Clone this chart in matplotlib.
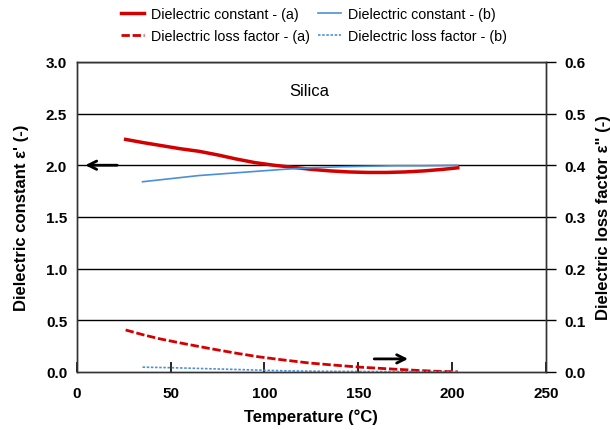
import matplotlib.pyplot as plt

plt.rcParams['font.family'] = ['Liberation Sans', 'DejaVu Sans']

# Dielectric constant (left axis)
temp_const_a = [26, 35, 45, 55, 65, 75, 85, 95, 105, 115, 125, 135, 145, 155, 165, 175, 185, 195, 203]
const_a = [2.25, 2.22, 2.19, 2.16, 2.135, 2.10, 2.06, 2.025, 2.00, 1.98, 1.96, 1.945, 1.935, 1.93, 1.93, 1.935, 1.945, 1.96, 1.975]
temp_const_b = [35, 50, 65, 80, 95, 110, 125, 140, 155, 170, 185, 203]
const_b = [1.84, 1.87, 1.90, 1.92, 1.94, 1.96, 1.975, 1.985, 1.99, 1.995, 1.995, 2.0]

# Dielectric loss factor (right axis)
temp_loss_a = [26, 35, 44, 55, 71, 85, 97, 110, 124, 137, 151, 165, 180, 192, 203]
loss_a = [0.081, 0.072, 0.064, 0.056, 0.045, 0.036, 0.029, 0.023, 0.017, 0.013, 0.009, 0.006, 0.003, 0.001, 0.0]
temp_loss_b = [35, 50, 70, 90, 110, 130, 160, 203]
loss_b = [0.009, 0.008, 0.006, 0.004, 0.002, 0.001, 0.0005, 0.0003]

RED = '#d40000'
BLUE = '#4a90d9'

fig = plt.figure(figsize=(6.1, 4.31), dpi=100)
ax = fig.add_axes([0.126, 0.135, 0.769, 0.719])
ax2 = ax.twinx()

for y in [0.5, 1.0, 1.5, 2.0, 2.5, 3.0]:
    ax.axhline(y, color='black', lw=1, zorder=1)

h1, = ax.plot(temp_const_a, const_a, color=RED, lw=2.5, label='Dielectric constant - (a)', zorder=3)
h3, = ax.plot(temp_const_b, const_b, color=BLUE, lw=1.2, label='Dielectric constant - (b)', zorder=3)
h2, = ax2.plot(temp_loss_a, loss_a, color=RED, lw=2, ls=(0, (3, 1)), label='Dielectric loss factor - (a)')
h4, = ax2.plot(temp_loss_b, loss_b, color=BLUE, lw=1.2, ls=(0, (1.5, 1)), label='Dielectric loss factor - (b)')

ax.set_xlim(0, 250)
ax.set_ylim(0, 3.0)
ax2.set_ylim(0, 0.6)
ax.set_xticks([0, 50, 100, 150, 200, 250])
ax.set_yticks([0.0, 0.5, 1.0, 1.5, 2.0, 2.5, 3.0])
ax2.set_yticks([0.0, 0.1, 0.2, 0.3, 0.4, 0.5, 0.6])
ax.yaxis.set_major_formatter(plt.FormatStrFormatter('%.1f'))
ax2.yaxis.set_major_formatter(plt.FormatStrFormatter('%.1f'))

ax.tick_params(axis='x', direction='in', length=7, width=1.2, labelsize=11, pad=10)
ax.tick_params(axis='y', length=0, labelsize=11, pad=7)
ax2.tick_params(axis='y', direction='out', length=7, width=1, labelsize=11, pad=6)
for lbl in ax.get_xticklabels() + ax.get_yticklabels() + ax2.get_yticklabels():
    lbl.set_fontweight('bold')

for a in (ax, ax2):
    for s in a.spines.values():
        s.set_color('#333333')
        s.set_linewidth(1)

ax.set_xlabel('Temperature (°C)', fontsize=12, fontweight='bold', labelpad=6)
ax.set_ylabel("Dielectric constant ε' (-)", fontsize=12, fontweight='bold', labelpad=12)
ax2.set_ylabel('Dielectric loss factor ε" (-)', fontsize=12, fontweight='bold', labelpad=8)

ax.text(124, 2.72, 'Silica', fontsize=12, ha='center', va='center')

# arrows pointing to the axis each curve belongs to
ax.annotate('', xy=(3, 2.0), xytext=(23, 2.0),
            arrowprops=dict(arrowstyle='->', color='black', lw=2, mutation_scale=15))
ax.annotate('', xy=(178, 0.125), xytext=(157, 0.125),
            arrowprops=dict(arrowstyle='->', color='black', lw=2, mutation_scale=15))

fig.legend(handles=[h1, h2, h3, h4], loc='upper center', bbox_to_anchor=(0.515, 1.012),
           ncol=2, frameon=False, fontsize=10.3, handlelength=1.6, columnspacing=0.6,
           handletextpad=0.5, labelspacing=0.55)

fig.savefig('out.png', dpi=100)
